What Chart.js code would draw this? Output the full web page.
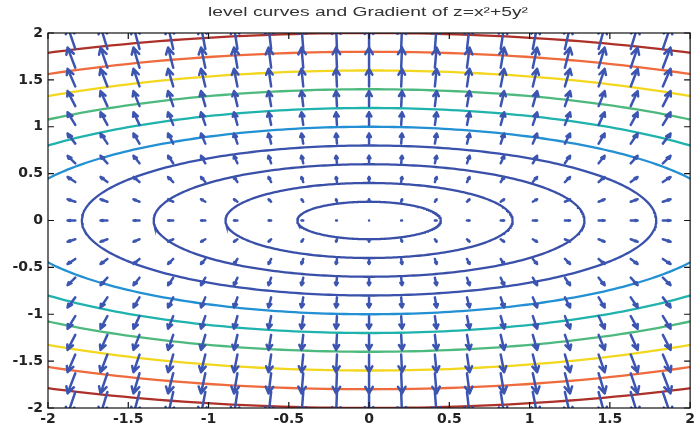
<!DOCTYPE html>
<html>
<head>
<meta charset="utf-8">
<script src="https://cdn.jsdelivr.net/npm/chart.js@4"></script>
<style>
  html, body { margin: 0; padding: 0; background: #fff; }
</style>
</head>
<body>
<canvas id="levelCurvesChart" width="698" height="426"></canvas>
<script>
// z = x^2 + 5y^2
const levels = [0.2, 0.8, 1.8, 3.2, 5, 7.2, 9.8, 12.8, 16.2, 20];
const gridX = [-1.83, -1.63, -1.43, -1.22, -1.02, -0.82, -0.61, -0.41, -0.2, 0, 0.2, 0.41, 0.61, 0.82, 1.02, 1.22, 1.43, 1.63, 1.83];
const gridY = [-1.83, -1.63, -1.43, -1.22, -1.02, -0.82, -0.61, -0.41, -0.2, 0, 0.2, 0.41, 0.61, 0.82, 1.02, 1.22, 1.43, 1.63, 1.83];
const xTickValues = [-2, -1.5, -1, -0.5, 0, 0.5, 1, 1.5, 2];
const yTickValues = [-2, -1.5, -1, -0.5, 0, 0.5, 1, 1.5, 2];
const titleText = 'level curves and Gradient of z=x²+5y²';

const levelColors = ['#3a50a8', '#3a50a8', '#3a50a8', '#3a52ac', '#2290d2', '#20b2ac', '#4eb97e', '#f3d61e', '#ef6a3c', '#ad3029'];
const arrowColor = '#3b55b1';

// gradient of the function in the title
function gradient(x, y) {
    return [2 * x, 10 * y];
}

// level curve z = c is the ellipse x^2 + 5y^2 = c
function levelCurve(c) {
    const pts = [];
    const a = Math.sqrt(c);
    const b = Math.sqrt(c / 5);
    for (let i = 0; i <= 360; i++) {
        const t = i * Math.PI / 180;
        pts.push({ x: a * Math.cos(t), y: b * Math.sin(t) });
    }
    return pts;
}

// quiver arrows, scaled like matlab's autoscale
const quiverPlugin = {
    id: 'quiver',
    afterDatasetsDraw(chart) {
        const { ctx, chartArea, scales } = chart;
        const sx = scales.x, sy = scales.y;
        const m = gridX.length, n = gridY.length;
        const delx = (gridX[m - 1] - gridX[0]) / m;
        const dely = (gridY[n - 1] - gridY[0]) / n;
        const del = delx * delx + dely * dely;
        let maxlen = 0;
        gridX.forEach(gx => gridY.forEach(gy => {
            const [u, v] = gradient(gx, gy);
            maxlen = Math.max(maxlen, Math.sqrt((u * u + v * v) / del));
        }));
        const k = 0.9 / maxlen;
        const alpha = 0.33, beta = 0.33;

        ctx.save();
        ctx.beginPath();
        ctx.rect(chartArea.left, chartArea.top, chartArea.right - chartArea.left, chartArea.bottom - chartArea.top);
        ctx.clip();
        ctx.strokeStyle = arrowColor;
        ctx.lineWidth = 2.5;
        ctx.lineCap = 'round';
        ctx.lineJoin = 'round';
        gridX.forEach(gx => gridY.forEach(gy => {
            let [u, v] = gradient(gx, gy);
            u *= k; v *= k;
            const tx = gx + u, ty = gy + v;
            ctx.beginPath();
            ctx.moveTo(sx.getPixelForValue(gx), sy.getPixelForValue(gy));
            ctx.lineTo(sx.getPixelForValue(tx), sy.getPixelForValue(ty));
            ctx.moveTo(sx.getPixelForValue(tx - alpha * (u + beta * v)), sy.getPixelForValue(ty - alpha * (v - beta * u)));
            ctx.lineTo(sx.getPixelForValue(tx), sy.getPixelForValue(ty));
            ctx.lineTo(sx.getPixelForValue(tx - alpha * (u - beta * v)), sy.getPixelForValue(ty - alpha * (v + beta * u)));
            ctx.stroke();
        }));
        ctx.restore();
    }
};

// box around the axes with inward tick marks, and the title (drawn a bit wide like the original)
const framePlugin = {
    id: 'frame',
    afterDraw(chart) {
        const { ctx, chartArea, scales } = chart;
        const { left, right, top, bottom } = chartArea;
        ctx.save();
        ctx.strokeStyle = '#111';
        ctx.lineWidth = 1.2;
        ctx.strokeRect(left, top, right - left, bottom - top);
        ctx.beginPath();
        xTickValues.forEach(v => {
            const px = scales.x.getPixelForValue(v);
            ctx.moveTo(px, bottom); ctx.lineTo(px, bottom - 6);
            ctx.moveTo(px, top); ctx.lineTo(px, top + 6);
        });
        yTickValues.forEach(v => {
            const py = scales.y.getPixelForValue(v);
            ctx.moveTo(left, py); ctx.lineTo(left + 6, py);
            ctx.moveTo(right, py); ctx.lineTo(right - 6, py);
        });
        ctx.stroke();

        ctx.font = '12px "Liberation Sans"';
        ctx.fillStyle = '#333';
        ctx.textAlign = 'center';
        ctx.textBaseline = 'middle';
        const w = ctx.measureText(titleText).width;
        const stretch = 320 / w;
        ctx.translate(368, 13);
        ctx.scale(stretch, 1);
        ctx.fillText(titleText, 0, 0);
        ctx.restore();
    }
};

const tickFont = { family: 'DejaVu Sans', size: 14, weight: 'bold' };

new Chart(document.getElementById('levelCurvesChart'), {
    type: 'scatter',
    data: {
        datasets: levels.map((c, i) => ({
            label: 'z = ' + c,
            data: levelCurve(c),
            showLine: true,
            borderColor: levelColors[i],
            borderWidth: 2.3,
            pointRadius: 0,
            fill: false,
            clip: 0
        }))
    },
    options: {
        responsive: false,
        animation: false,
        devicePixelRatio: 1,
        layout: { padding: { left: 0, right: 5, top: 33, bottom: 0 } },
        plugins: {
            legend: { display: false },
            tooltip: { enabled: false },
            title: { display: false }
        },
        scales: {
            x: {
                type: 'linear',
                min: -2,
                max: 2,
                afterBuildTicks: s => { s.ticks = xTickValues.map(v => ({ value: v })); },
                afterFit: s => { s.height = 18; },
                grid: { display: false, drawTicks: false },
                border: { display: false },
                ticks: { color: '#222', font: tickFont, padding: 3, maxRotation: 0, callback: v => String(v) }
            },
            y: {
                type: 'linear',
                min: -2,
                max: 2,
                afterBuildTicks: s => { s.ticks = yTickValues.map(v => ({ value: v })); },
                afterFit: s => { s.width = 48; },
                grid: { display: false, drawTicks: false },
                border: { display: false },
                ticks: { color: '#222', font: tickFont, padding: 5, callback: v => String(v) }
            }
        }
    },
    plugins: [quiverPlugin, framePlugin]
});
</script>
</body>
</html>
